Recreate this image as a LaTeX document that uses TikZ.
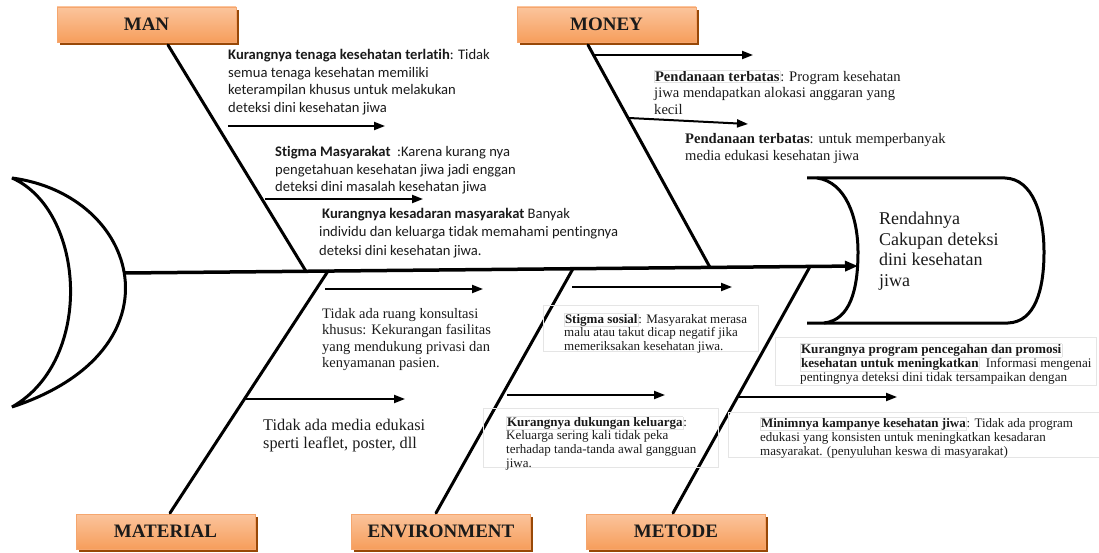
\documentclass[tikz,border=0pt]{standalone}
\usepackage{fontspec}
\setmainfont[Ligatures=CommonOff]{Liberation Serif}
\newfontfamily\calibrifont[Ligatures=CommonOff]{Carlito}
\usetikzlibrary{arrows.meta,shadows}
\definecolor{orTop}{HTML}{FBC49C}
\definecolor{orMid}{HTML}{F7913D}
\definecolor{orBot}{HTML}{F69E5C}
\definecolor{orEdge}{HTML}{F5A66E}
\definecolor{shBrown}{HTML}{984807}
\definecolor{inkc}{HTML}{1A1A1A}
\newcommand\hlb[1]{\smash{\setlength{\fboxsep}{0.4pt}\setlength{\fboxrule}{0.4pt}\fcolorbox{black!11}{white}{\textbf{#1}}}\vphantom{\textbf{#1}}}
\tikzset{
  catbox/.style={minimum width=179pt, minimum height=35pt, inner sep=0pt,
    top color=orTop, middle color=orMid, bottom color=orBot, draw=orEdge, line width=0.8pt,
    font=\fontsize{19}{21}\selectfont\bfseries, text=inkc,
    drop shadow={shadow xshift=2.6pt, shadow yshift=-2.6pt, fill=shBrown, opacity=1}},
  bone/.style={line width=3pt, line cap=round},
  spine/.style={line width=3.5pt, -{Triangle[length=13pt,width=10pt]}},
  subarrow/.style={line width=2pt, -{Triangle[length=11pt,width=8pt]}},
  outline/.style={line width=3pt, line join=miter, miter limit=3},
  faint/.style={draw=black!10, line width=0.5pt},
  blk/.style={anchor=north west, inner sep=0pt, align=left, text=inkc},
  sanstxt/.style={blk, font=\calibrifont\fontsize{14.6}{17.7}\selectfont},
  sertxt/.style={blk, font=\fontsize{14.6}{16.6}\selectfont},
  smalltxt/.style={blk, font=\fontsize{13}{13.4}\selectfont},
}
\begin{document}
\begin{tikzpicture}[x=1pt,y=-1pt]
\useasboundingbox (0,0) rectangle (1099,553);

% category boxes
\node[catbox] (man) at (146.5,24.5) {MAN};
\node[catbox] (money) at (606.5,24.5) {MONEY};
\node[catbox] (material) at (165.5,531.5) {MATERIAL};
\node[catbox] (environment) at (441,531.5) {ENVIRONMENT};
\node[catbox] (metode) at (676,531.5) {METODE};

% tail (crescent)
\draw[outline, fill=white] (12,178) .. controls (140,195) and (185,350) .. (12,407)
   .. controls (95,360) and (85,210) .. (12,178) -- cycle;

% head
\draw[outline] (807,178) -- (1005,178) .. controls (1033,179) and (1044,215) .. (1044,252)
   .. controls (1044,290) and (1035,322) .. (1008,323) -- (807,323);
\draw[outline] (817,178) .. controls (846,182) and (858,218) .. (858,252)
   .. controls (858,290) and (850,320) .. (824,323);
\node[blk, font=\fontsize{18}{20.5}\selectfont] (effect) at (879,212) {Rendahnya\\Cakupan deteksi\\dini kesehatan\\jiwa};

% spine
\coordinate (tail) at (125,273);
\coordinate (headL) at (858,266);
\draw[spine] (tail) -- (headL);

% bones
\coordinate (manTop) at (168,45);   \coordinate (manEnd) at (306,271.3);
\coordinate (moneyTop) at (588,45); \coordinate (moneyEnd) at (710,267.4);
\coordinate (matTop) at (328,271.1); \coordinate (matEnd) at (170,513);
\coordinate (envTop) at (573,268.7); \coordinate (envEnd) at (436,513);
\coordinate (metTop) at (810,266.5); \coordinate (metEnd) at (673,513);
\draw[bone] (manTop) -- (manEnd);
\draw[bone] (moneyTop) -- (moneyEnd);
\draw[bone] (matTop) -- (matEnd);
\draw[bone] (envTop) -- (envEnd);
\draw[bone] (metTop) -- (metEnd);

% sub arrows
\coordinate (m1s) at (228,126); \coordinate (m1e) at (385,126);
\coordinate (m2s) at (265,199); \coordinate (m2e) at (423,199);
\coordinate (y1s) at (594,55);  \coordinate (y1e) at (753,55);
\coordinate (y2s) at (629,118); \coordinate (y2e) at (748,124);
\coordinate (t1s) at (325,289); \coordinate (t1e) at (483,289);
\coordinate (t2s) at (246,399); \coordinate (t2e) at (405,399);
\coordinate (e1s) at (572,287); \coordinate (e1e) at (732,287);
\coordinate (e2s) at (507,395); \coordinate (e2e) at (665,395);
\coordinate (d1s) at (737,397); \coordinate (d1e) at (897,397);
\foreach \a in {m1,m2,y1,y2,t1,t2,e1,e2,d1}{\draw[subarrow] (\a s) -- (\a e);}

% faint text frames
\draw[faint] (543,305) rectangle (758,351);
\draw[faint] (483,408) rectangle (718,467);
\draw[faint] (775,337) rectangle (1096,385);
\draw[faint] (728,412) rectangle (1099,457);

% MAN causes
\node[sanstxt] (man1) at (228,49) {\textbf{Kurangnya tenaga kesehatan terlatih}: Tidak\\semua tenaga kesehatan memiliki\\keterampilan khusus untuk melakukan\\deteksi dini kesehatan jiwa};
\node[sanstxt] (man2) at (275,146) {\textbf{Stigma Masyarakat}\ \ :Karena kurang nya\\pengetahuan kesehatan jiwa jadi enggan\\deteksi dini masalah kesehatan jiwa};
\node[sanstxt, font=\calibrifont\fontsize{14.6}{18.5}\selectfont] (man3) at (319,208) {\hspace*{3pt}\textbf{Kurangnya kesadaran masyarakat} Banyak\\individu dan keluarga tidak memahami pentingnya\\deteksi dini kesehatan jiwa.};

% MONEY causes
\node[sertxt] (money1) at (654,71) {\hlb{Pendanaan terbatas}: Program kesehatan\\jiwa mendapatkan alokasi anggaran yang\\kecil};
\node[sertxt, font=\fontsize{14.6}{17}\selectfont] (money2) at (685,133) {\textbf{Pendanaan terbatas}: untuk memperbanyak\\media edukasi kesehatan jiwa};

% MATERIAL causes
\node[sertxt, font=\fontsize{14.5}{16.4}\selectfont] (mat1) at (322,308) {Tidak ada ruang konsultasi\\khusus: Kekurangan fasilitas\\yang mendukung privasi dan\\kenyamanan pasien.};
\node[sertxt, font=\fontsize{16.3}{18}\selectfont] (mat2) at (263,419) {Tidak ada media edukasi\\sperti leaflet, poster, dll};

% ENVIRONMENT causes
\node[smalltxt] (env1) at (564,314) {\hlb{Stigma sosial}: Masyarakat merasa\\malu atau takut dicap negatif jika\\memeriksakan kesehatan jiwa.};
\node[smalltxt, font=\fontsize{13}{13.6}\selectfont] (env2) at (506,417) {\hlb{Kurangnya dukungan keluarga}:\\Keluarga sering kali tidak peka\\terhadap tanda-tanda awal gangguan\\jiwa.};

% METODE causes
\node[smalltxt, font=\fontsize{13.15}{14}\selectfont] (met1) at (800,344) {\hlb{Kurangnya program pencegahan dan promosi}\\\hlb{kesehatan untuk meningkatkan}\ \ Informasi mengenai\\pentingnya deteksi dini tidak tersampaikan dengan};
\node[smalltxt, font=\fontsize{13}{14}\selectfont] (met2) at (760,418) {\hlb{Minimnya kampanye kesehatan jiwa}: Tidak ada program\\edukasi yang konsisten untuk meningkatkan kesadaran\\masyarakat. (penyuluhan keswa di masyarakat)};
\end{tikzpicture}
\end{document}
